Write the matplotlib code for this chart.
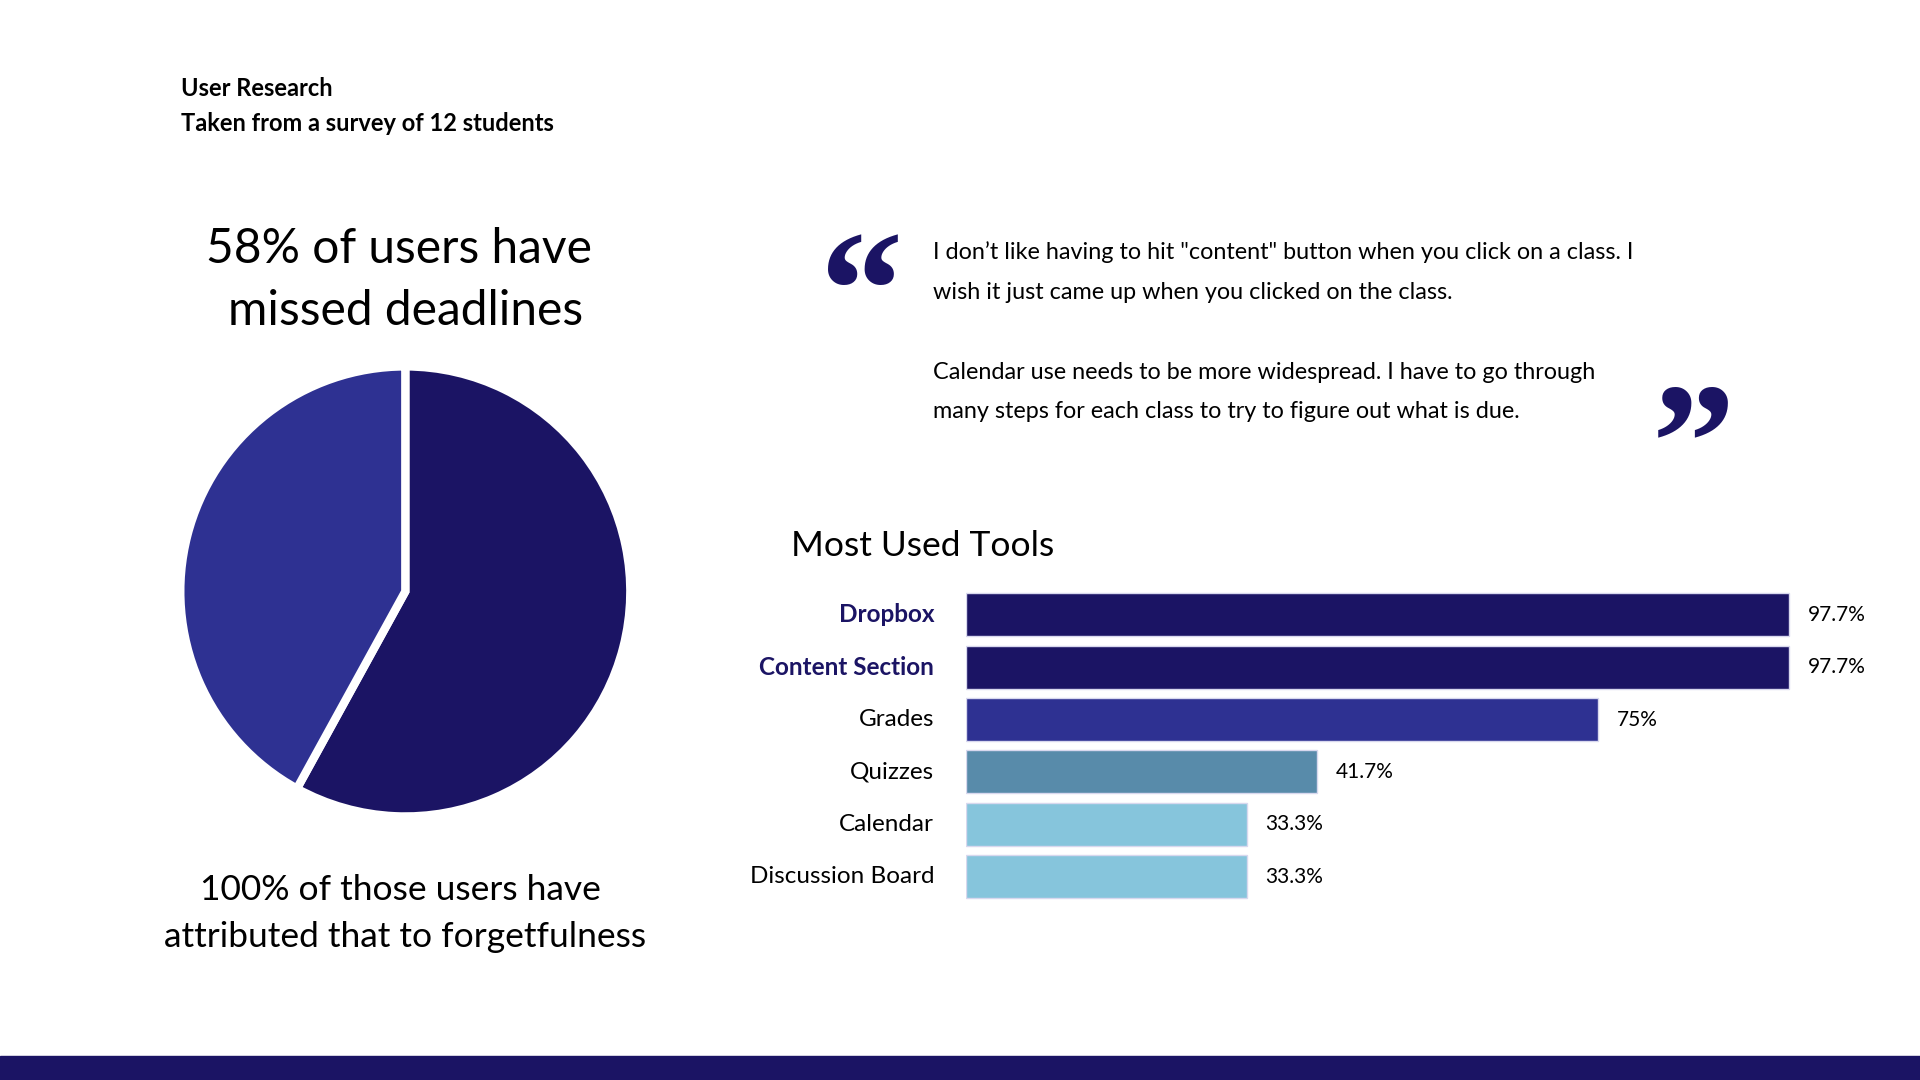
import numpy as np
import matplotlib.pyplot as plt

plt.rcParams['font.family'] = ['Lato', 'DejaVu Sans']

NAVY = '#1B1464'
INDIGO = '#2E3192'

# pie data
pie_labels = ['missed deadlines', 'did not']
pie_values = [58, 42]
pie_colors = [NAVY, INDIGO]

# bar data
tools = ['Dropbox', 'Content Section', 'Grades', 'Quizzes', 'Calendar', 'Discussion Board']
usage = [97.7, 97.7, 75, 41.7, 33.3, 33.3]
usage_text = ['97.7%', '97.7%', '75%', '41.7%', '33.3%', '33.3%']
bar_colors = [NAVY, NAVY, INDIGO, '#588BAA', '#86C5DC', '#86C5DC']
highlight = [True, True, False, False, False, False]

quote_lines = [
    'I don\u2019t like having to hit "content" button when you click on a class. I',
    'wish it just came up when you clicked on the class.',
    '',
    'Calendar use needs to be more widespread. I have to go through',
    'many steps for each class to try to figure out what is due.',
]

W, H = 1568.0, 882.0
def fx(x): return x / W
def fy(y): return 1 - y / H

fig = plt.figure(figsize=(19.2, 10.8), dpi=100)
fig.patch.set_facecolor('white')

# header
fig.text(fx(148), fy(72), 'User Research', fontsize=17, weight='bold', va='center', ha='left')
fig.text(fx(148), fy(101), 'Taken from a survey of 12 students', fontsize=17, weight='bold', va='center', ha='left')

# pie headline
fig.text(fx(326), fy(203), '58% of users have', fontsize=34.5, ha='center', va='center')
fig.text(fx(331), fy(254), 'missed deadlines', fontsize=34.5, ha='center', va='center')

ax_pie = fig.add_axes([fx(150), fy(664), 362 / W, 362 / H])
ax_pie.pie(pie_values, colors=pie_colors, startangle=90, counterclock=False,
           wedgeprops=dict(edgecolor='white', linewidth=6))
ax_pie.set_aspect('equal')
ax_pie.set_xlim(-0.985, 0.985)
ax_pie.set_ylim(-0.985, 0.985)

fig.text(fx(327), fy(727), '100% of those users have', fontsize=25.5, ha='center', va='center')
fig.text(fx(331), fy(765), 'attributed that to forgetfulness', fontsize=25.5, ha='center', va='center')

# quote marks
qfont = ['Liberation Serif', 'DejaVu Serif']
fig.text(fx(704), fy(188), '\u201C', fontsize=120, weight='bold', color=NAVY,
         ha='center', va='top', family=qfont)
fig.text(fx(1383), fy(312), '\u201D', fontsize=120, weight='bold', color=NAVY,
         ha='center', va='top', family=qfont)
line_y = [206, 239, 271, 304, 336]
for ly, txt in zip(line_y, quote_lines):
    fig.text(fx(762), fy(ly), txt, fontsize=16.8, ha='left', va='center')

# bar chart
fig.text(fx(646), fy(446), 'Most Used Tools', fontsize=25.5, ha='left', va='center')

ax_bar = fig.add_axes([fx(789), fy(737.4), 688 / W, 256.8 / H])
y = np.arange(len(tools))
ax_bar.barh(y, usage, height=0.82, color=bar_colors, edgecolor='#d8d8ee', linewidth=1)
ax_bar.set_xlim(0, 100)
ax_bar.set_ylim(len(tools) - 0.5, -0.5)
ax_bar.axis('off')
for i, (v, t) in enumerate(zip(usage, usage_text)):
    ax_bar.text(v + 2.2, i, t, fontsize=15, ha='left', va='center')
for i, (name, hl) in enumerate(zip(tools, highlight)):
    ax_bar.text(-3.8, i, name, fontsize=17.5, ha='right', va='center',
                weight='bold' if hl else 'normal', color=NAVY if hl else 'black')

# bottom band
fig.patches.append(plt.Rectangle((0, 0), 1, 20 / H, transform=fig.transFigure,
                                 color=NAVY, zorder=0))

fig.savefig('out.png', dpi=100, facecolor='white')
